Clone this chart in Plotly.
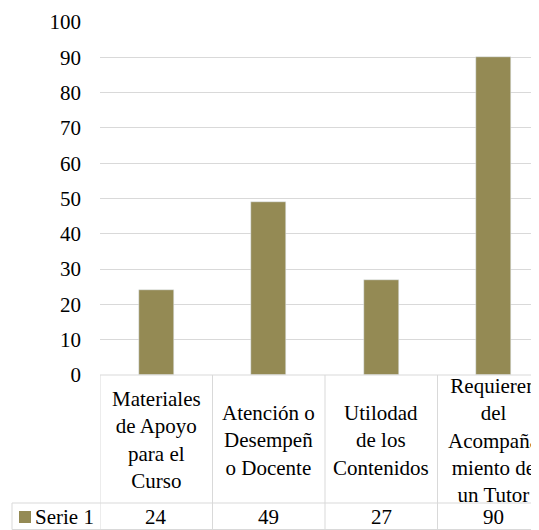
import plotly.graph_objects as go

categories = ["Materiales de Apoyo para el Curso", "Atención o Desempeño Docente",
              "Utilodad de los Contenidos", "Requieren del Acompañamiento de un Tutor"]
category_labels = ["Materiales<br>de Apoyo<br>para el<br>Curso",
                   "Atención o<br>Desempeñ<br>o Docente",
                   "Utilodad<br>de los<br>Contenidos",
                   "Requieren<br>del<br>Acompaña<br>miento de<br>un Tutor"]
series_name = "Serie 1"
values = [24, 49, 27, 90]
y_ticks = [0, 10, 20, 30, 40, 50, 60, 70, 80, 90, 100]

BAR = "#948A54"
GRID = "#D9D9D9"
TXT = "#000000"
FONT = "Liberation Serif"

OFF = 8  # page body margin
W, H = 539 - OFF, 530 - OFF
ML, MT = 100 - OFF, 22 - OFF
PLOT_W = W - ML
PLOT_B = 375 - OFF
PLOT_H = PLOT_B - MT
CAT_PX = 112.5  # pixel width of one category


def px_x(p):
    # p in screen pixels
    return (p - OFF - ML) / PLOT_W


def px_y(p):
    return (PLOT_B - (p - OFF)) / PLOT_H


fig = go.Figure()
fig.add_trace(go.Bar(x=list(range(len(values))), y=values, marker_color=BAR,
                     width=0.31, name=series_name, showlegend=False))

x_max = -0.5 + PLOT_W / CAT_PX

shapes = []
line = dict(color=GRID, width=1)
row_div = 503
bottom = 529.5
shapes.append(dict(type="line", xref="paper", yref="paper", x0=0, x1=1.05, y0=0, y1=0, line=line))
shapes.append(dict(type="line", xref="paper", yref="paper", x0=px_x(12), x1=1.05,
                   y0=px_y(row_div), y1=px_y(row_div), line=line))
shapes.append(dict(type="line", xref="paper", yref="paper", x0=px_x(12), x1=1.05,
                   y0=px_y(bottom), y1=px_y(bottom), line=line))
shapes.append(dict(type="line", xref="paper", yref="paper", x0=px_x(12), x1=px_x(12),
                   y0=px_y(row_div), y1=px_y(bottom), line=line))
for i in range(len(values)):
    xb = i - 0.5
    shapes.append(dict(type="line", xref="x", yref="paper", x0=xb, x1=xb,
                       y0=0, y1=px_y(bottom), line=line))
shapes.append(dict(type="rect", xref="paper", yref="paper", x0=px_x(19), x1=px_x(31),
                   y0=px_y(523), y1=px_y(511), fillcolor=BAR, line=dict(width=0)))

annotations = []
for i, lab in enumerate(category_labels):
    annotations.append(dict(x=i, xref="x", y=px_y(440), yref="paper", text=lab,
                            showarrow=False, xanchor="center", yanchor="middle",
                            font=dict(size=21, color=TXT, family=FONT)))
for i, v in enumerate(values):
    annotations.append(dict(x=i, xref="x", y=px_y(517), yref="paper", text=str(v),
                            showarrow=False, xanchor="center", yanchor="middle",
                            font=dict(size=21, color=TXT, family=FONT)))
annotations.append(dict(x=px_x(33), xref="paper", y=px_y(517), yref="paper", text=series_name,
                        showarrow=False, xanchor="left", yanchor="middle",
                        font=dict(size=21, color=TXT, family=FONT)))

fig.update_layout(
    width=W, height=H,
    margin=dict(l=ML, r=0, t=MT, b=H - PLOT_B, pad=0),
    paper_bgcolor="white", plot_bgcolor="white",
    font=dict(family=FONT, size=21, color=TXT),
    xaxis=dict(range=[-0.5, x_max], showticklabels=False, showgrid=False,
               zeroline=False, showline=False, fixedrange=True),
    yaxis=dict(range=[0, 100], tickvals=y_ticks, showgrid=True, gridcolor=GRID,
               gridwidth=1, zeroline=False, showline=False, ticks="",
               ticklabelstandoff=18, tickfont=dict(size=21, color=TXT, family=FONT)),
    shapes=shapes, annotations=annotations, showlegend=False, bargap=0,
)

fig.write_html("out.html")
